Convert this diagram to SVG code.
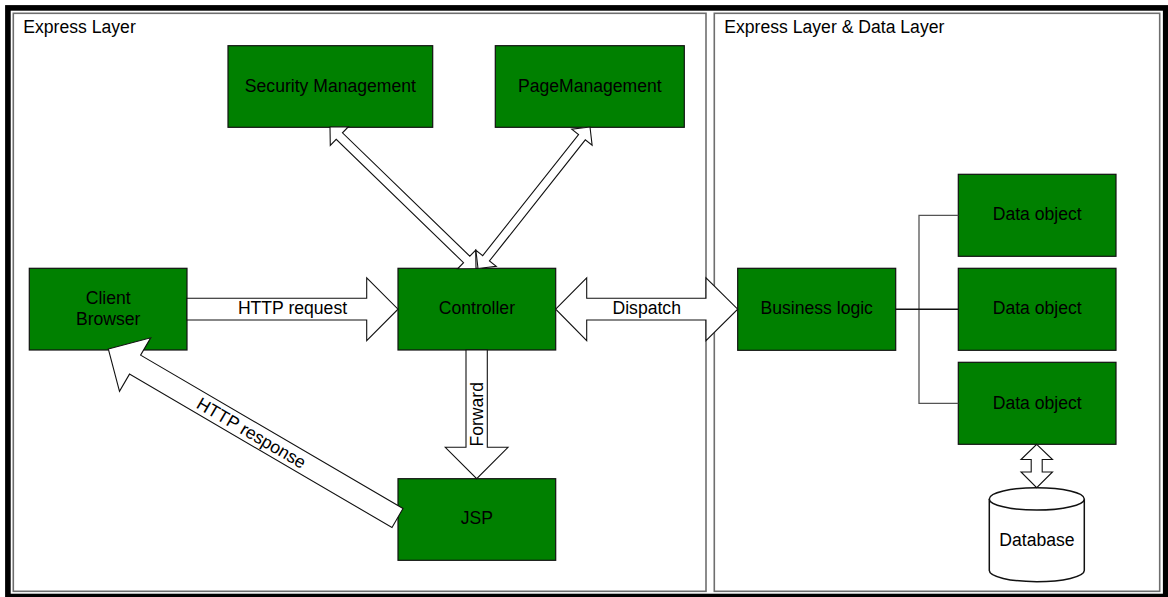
<svg xmlns="http://www.w3.org/2000/svg" width="1168" height="597" viewBox="0 0 1168 597">
  <style>
    .frame { fill: none; stroke: #000; stroke-width: 5.6; }
    .panel { fill: #fff; stroke: #6e6e6e; stroke-width: 1.6; }
    .node { fill: #008000; stroke: #111; stroke-width: 1.2; }
    .arrow { fill: #fff; stroke: #111; stroke-width: 1.1; stroke-linejoin: miter; }
    .link { fill: none; stroke: #555; stroke-width: 1.3; }
    .link-main { fill: none; stroke: #111; stroke-width: 1.4; }
    .db { fill: #fff; stroke: #111; stroke-width: 1.5; }
    text { font-family: "Liberation Sans", Arial, sans-serif; font-size: 17.6px; fill: #000; }
    .c { text-anchor: middle; }
  </style>

  <!-- outer frame and the two layer panels -->
  <rect class="frame" x="7.9" y="7.9" width="1157.8" height="588.6"/>
  <g id="panel-express">
    <rect class="panel" x="13.3" y="13.3" width="692.7" height="578"/>
    <text x="23.3" y="33.3">Express Layer</text>
  </g>
  <g id="panel-express-data">
    <rect class="panel" x="714.3" y="13.3" width="445.4" height="578"/>
    <text x="724.3" y="33.3">Express Layer &amp; Data Layer</text>
  </g>

  <!-- nodes -->
  <g id="security-management">
    <rect class="node" x="228" y="45.7" width="204.7" height="81.6"/>
    <text class="c" x="330.4" y="91.5">Security Management</text>
  </g>
  <g id="page-management">
    <rect class="node" x="495.3" y="45.7" width="189" height="81.6"/>
    <text class="c" x="589.8" y="91.5">PageManagement</text>
  </g>
  <g id="client-browser">
    <rect class="node" x="29.3" y="268.3" width="157.7" height="81.7"/>
    <text class="c" x="108.2" y="304">Client</text>
    <text class="c" x="108.2" y="325">Browser</text>
  </g>
  <g id="controller">
    <rect class="node" x="398" y="268.3" width="157.7" height="81.7"/>
    <text class="c" x="476.9" y="314.3">Controller</text>
  </g>
  <g id="jsp">
    <rect class="node" x="398" y="478.7" width="157.7" height="81.6"/>
    <text class="c" x="476.9" y="524.3">JSP</text>
  </g>
  <g id="business-logic">
    <rect class="node" x="737.7" y="268.3" width="158" height="82"/>
    <text class="c" x="816.7" y="314.3">Business logic</text>
  </g>
  <g id="data-object-1">
    <rect class="node" x="958.3" y="174.3" width="157.7" height="82"/>
    <text class="c" x="1037.2" y="220">Data object</text>
  </g>
  <g id="data-object-2">
    <rect class="node" x="958.3" y="268.3" width="157.7" height="82"/>
    <text class="c" x="1037.2" y="314.3">Data object</text>
  </g>
  <g id="data-object-3">
    <rect class="node" x="958.3" y="362.3" width="157.7" height="82"/>
    <text class="c" x="1037.2" y="408.7">Data object</text>
  </g>
  <g id="database">
    <path class="db" d="M989.3,498.9 A47.5,11.2 0 0 1 1084.3,498.9 L1084.3,570.5 A47.5,11.2 0 0 1 989.3,570.5 Z"/>
    <path class="db" d="M989.3,498.9 A47.5,11.2 0 0 0 1084.3,498.9"/>
    <text class="c" x="1037" y="545.5">Database</text>
  </g>

  <!-- connectors -->
  <g id="connectors">
    <!-- Business logic to data objects -->
    <path class="link" d="M958.3,215.3 H919 V403.3 H958.3"/>
    <path class="link-main" d="M895.7,309.2 H958.3"/>

    <!-- Security Management <-> Controller -->
    <polygon class="arrow" points="330,127 348.39,126.71 342.47,132.82 469.79,256.22 475.71,250.11 476,268.5 457.61,268.79 463.53,262.68 336.21,139.28 330.29,145.39"/>
    <!-- PageManagement <-> Controller -->
    <polygon class="arrow" points="590,127 592.12,145.26 585.3,139.86 489.44,260.98 496.26,266.38 478,268.5 475.88,250.24 482.7,255.64 578.56,134.52 571.74,129.12"/>

    <!-- HTTP request -->
    <polygon class="arrow" points="187,298.3 366.7,298.3 366.7,277.8 398,309.2 366.7,340.6 366.7,320 187,320"/>
    <text class="c" x="292.5" y="314.3">HTTP request</text>

    <!-- Dispatch -->
    <polygon class="arrow" points="555.7,309.2 586.7,277.8 586.7,298.3 706,298.3 706,277.8 737.7,309.2 706,340.6 706,320 586.7,320 586.7,340.6"/>
    <text class="c" x="646.7" y="314.3">Dispatch</text>

    <!-- Forward -->
    <polygon class="arrow" points="466,350 487.3,350 487.3,447.3 508,447.3 476.7,478.7 445.3,447.3 466,447.3"/>
    <text class="c" transform="translate(476.5,414.3) rotate(-90)" y="6.3">Forward</text>

    <!-- HTTP response -->
    <polygon class="arrow" points="108.3,349 150.7,337.8 140.6,355.1 403,508.5 392,527.5 129.5,374.1 119.5,391.4"/>
    <text class="c" transform="translate(251.6,432.7) rotate(30.3)" y="6.3">HTTP response</text>

    <!-- Data object <-> Database -->
    <polygon class="arrow" points="1036.7,444.3 1052.5,459.5 1042.2,459.5 1042.2,472 1052.5,472 1036.7,487.7 1021,472 1031.2,472 1031.2,459.5 1021,459.5"/>
  </g>
</svg>
